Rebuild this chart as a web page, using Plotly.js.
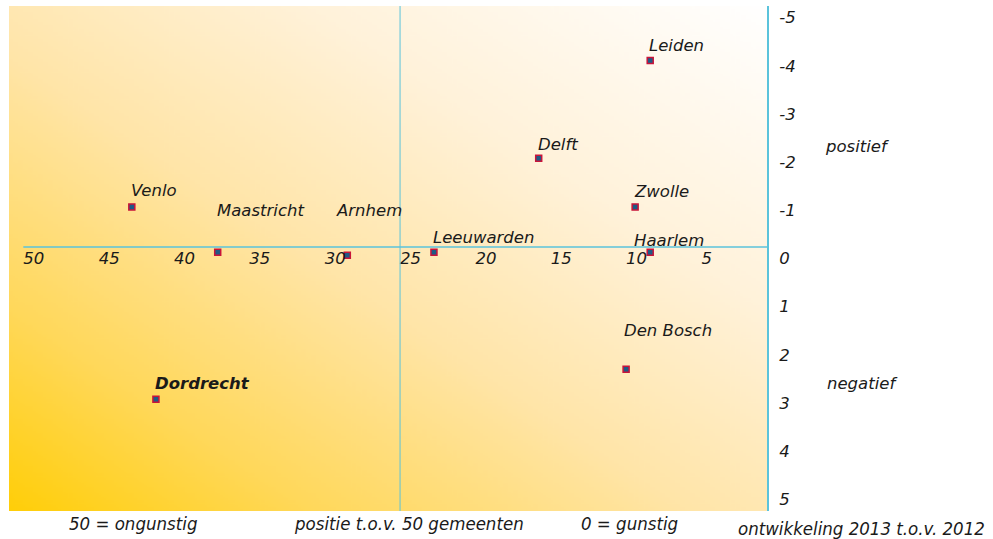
<!DOCTYPE html>
<html>
<head>
<meta charset="utf-8">
<script src="https://cdn.plot.ly/plotly-3.0.1.min.js"></script>
<style>html,body{margin:0;padding:0;background:#fff;}#chart{width:993px;height:539px;}</style>
</head>
<body>
<div id="chart"></div>
<script>
// ---- data ----
const cities = ["Leiden","Delft","Venlo","Zwolle","Maastricht","Arnhem","Leeuwarden","Haarlem","Den Bosch","Dordrecht"];
const positie = [8.4, 15.8, 42.8, 9.4, 37.1, 28.5, 22.75, 8.4, 10.0, 41.2];
const ontwikkeling = [-3.87, -1.84, -0.83, -0.83, 0.11, 0.17, 0.11, 0.11, 2.54, 3.16];
const xTickVals = [50,45,40,35,30,25,20,15,10,5];
const yTickVals = [-5,-4,-3,-2,-1,0,1,2,3,4,5];
const captionLeft = "50 = ongunstig";
const captionMid = "positie t.o.v. 50 gemeenten";
const captionRight = "0 = gunstig";
const yTitle = "ontwikkeling 2013 t.o.v. 2012";
const posLabel = "positief";
const negLabel = "negatief";

// ---- label offsets (pixels, left edge / vertical centre relative to marker) ----
const labelOffsets = [[-2,-15],[-2,-14],[-2,-16],[-2,-15],[-2,-42],[-12,-45],[-2,-15],[-17,-12],[-3,-39],[-2,-16]];
const boldLabels = ["Dordrecht"];

// ---- geometry ----
const W = 993, H = 539;
const L = 9, R = 767, T = 6, B = 511;
const pX = p => (p - L) / (R - L);
const pY = p => (B - p) / (B - T);

// gradient background
function gradientURL(){
  const c = document.createElement('canvas');
  c.width = 300; c.height = 300;
  const g = c.getContext('2d');
  const gr = g.createLinearGradient(0, 300, 300, 0);
  gr.addColorStop(0.0, '#FFCE08');
  gr.addColorStop(0.2, '#FFD85A');
  gr.addColorStop(0.45, '#FFE5A8');
  gr.addColorStop(0.7, '#FFF2DA');
  gr.addColorStop(1.0, '#FFFFFF');
  g.fillStyle = gr;
  g.fillRect(0, 0, 300, 300);
  return c.toDataURL('image/png');
}

const FONT = '"DejaVu Sans", Verdana, sans-serif';
const CFONT = '"DejaVu Sans Condensed", "DejaVu Sans", sans-serif';
const cyan = '#5BC3DB';
const TXT = '#1a1a1a';

const trace = {
  type: 'scatter', mode: 'markers',
  x: positie, y: ontwikkeling, text: cities,
  hoverinfo: 'text',
  marker: {symbol: 'square', size: 6, color: '#1F5A86', line: {color: '#C8143A', width: 1.5}},
  showlegend: false
};

const annotations = cities.map((c, i) => ({
  x: positie[i], y: ontwikkeling[i], xref: 'x', yref: 'y',
  text: c, showarrow: false, xanchor: 'left', yanchor: 'middle',
  xshift: labelOffsets[i][0], yshift: -labelOffsets[i][1],
  borderpad: 0,
  font: {family: FONT, size: 16.5, color: TXT, style: 'italic',
         weight: boldLabels.includes(c) ? 'bold' : 'normal'}
}));

function cap(text, cx, cy, font, size){
  return {xref: 'paper', yref: 'paper', x: pX(cx), y: pY(cy), text: text, showarrow: false,
          xanchor: 'center', yanchor: 'middle', borderpad: 0,
          font: {family: font, size: size, color: TXT, style: 'italic'}};
}
annotations.push(cap(captionLeft, 132.5, 523, CFONT, 18.5));
annotations.push(cap(captionMid, 408.5, 523, CFONT, 18.5));
annotations.push(cap(captionRight, 629, 523, CFONT, 18.5));
annotations.push(cap(yTitle, 861.5, 528, CFONT, 18.5));
annotations.push(cap(posLabel, 857, 146, FONT, 16.5));
annotations.push(cap(negLabel, 861.5, 383, FONT, 16.5));

const layout = {
  width: W, height: H,
  margin: {l: L, r: W - R, t: T, b: H - B, pad: 0},
  paper_bgcolor: '#ffffff',
  plot_bgcolor: 'rgba(0,0,0,0)',
  showlegend: false,
  xaxis: {
    range: [50.95, 0.65], anchor: 'free', position: pY(246.7),
    tickvals: xTickVals, ticktext: xTickVals.map(String),
    ticks: '', showgrid: false, zeroline: false, showline: false,
    ticklabelposition: 'outside right',
    tickfont: {family: FONT, size: 16.5, color: TXT, style: 'italic'},
    fixedrange: true
  },
  yaxis: {
    range: [5.48, -5], side: 'right', anchor: 'x',
    tickvals: yTickVals, ticktext: yTickVals.map(String),
    ticks: '', showgrid: false, zeroline: false,
    showline: true, linecolor: cyan, linewidth: 2,
    ticklabelposition: 'outside bottom', ticklabelstandoff: 7,
    tickfont: {family: FONT, size: 16.5, color: TXT, style: 'italic'},
    fixedrange: true
  },
  images: [{source: gradientURL(), xref: 'paper', yref: 'paper', x: 0, y: 1,
            sizex: 1, sizey: 1, sizing: 'stretch', layer: 'below', xanchor: 'left', yanchor: 'top'}],
  shapes: [
    {type: 'line', xref: 'x', yref: 'paper', x0: 25, x1: 25, y0: 0, y1: 1,
     line: {color: cyan, width: 1}},
    {type: 'line', xref: 'x', yref: 'y', x0: 50, x1: 0.65, y0: 0, y1: 0,
     line: {color: cyan, width: 1.5}}
  ],
  annotations: annotations
};

Plotly.newPlot('chart', [trace], layout, {displayModeBar: false, staticPlot: true});
</script>
</body>
</html>
